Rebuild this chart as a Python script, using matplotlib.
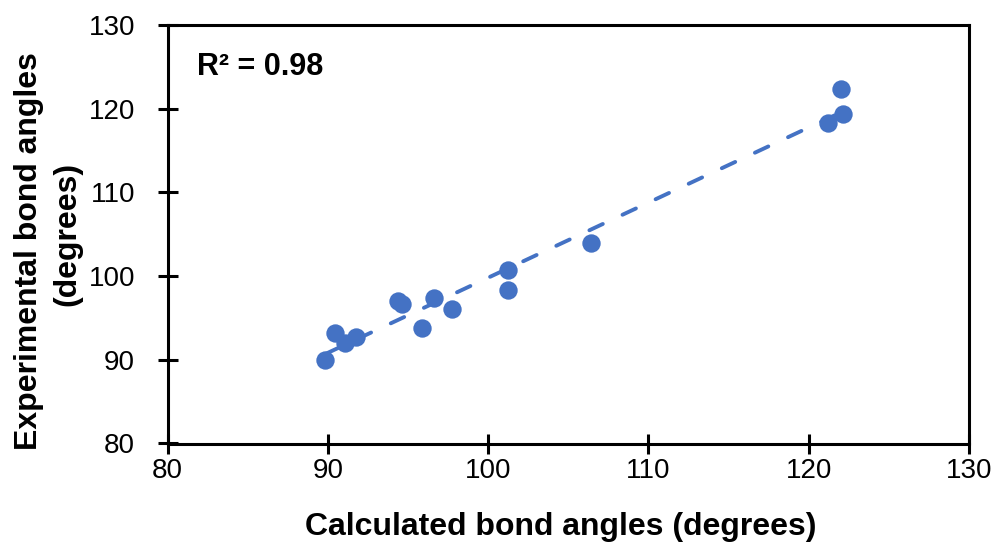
import numpy as np
import matplotlib
matplotlib.use("Agg")
import matplotlib.pyplot as plt

plt.rcParams['font.family'] = ['Liberation Sans', 'DejaVu Sans']

# Calculated vs experimental bond angles (degrees)
calculated = [89.8, 90.45, 91.05, 91.75, 94.35, 94.6, 95.85, 96.6, 97.75,
              101.25, 101.25, 106.4, 121.2, 122.0, 122.15]
experimental = [90.0, 93.2, 91.95, 92.75, 97.0, 96.7, 93.85, 97.35, 96.05,
                100.75, 98.35, 104.0, 118.25, 122.3, 119.35]
r2_label = "R² = 0.98"
ticks = [80, 90, 100, 110, 120, 130]

blue = "#4472C4"
W, H = 999, 546

fig = plt.figure(figsize=(W / 100, H / 100), dpi=100)
ax = fig.add_axes([167.5 / W, 1 - 443.5 / H, (969 - 167.5) / W,
                   (443.5 - 25) / H])

x = np.array(calculated)
y = np.array(experimental)
ax.scatter(x, y, s=175, color=blue, zorder=3, linewidths=0)

# Linear trendline over the data range
slope, intercept = np.polyfit(x, y, 1)
xl = np.array([x.min(), x.max()])
ax.plot(xl, slope * xl + intercept, color=blue, lw=2.8,
        dashes=(3.8, 5.6), dash_capstyle='round', zorder=2)

ax.set_xlim(80, 130)
ax.set_ylim(80, 130)
ax.set_xticks(ticks)
ax.set_yticks(ticks)
ax.tick_params(direction='inout', length=14, width=2.2, labelsize=20)
ax.tick_params(axis='x', pad=3.5)
ax.tick_params(axis='y', pad=16.4)
for s in ax.spines.values():
    s.set_linewidth(2.2)

# Axis titles
fig.text(561 / W, 1 - 534.7 / H, "Calculated bond angles (degrees)",
         fontsize=23, fontweight='bold', ha='center', va='baseline')
fig.text(36.7 / W, 1 - 251 / H, "Experimental bond angles",
         fontsize=23, fontweight='bold', ha='center', va='baseline',
         rotation=90, rotation_mode='anchor')
fig.text(75 / W, 1 - 233.5 / H, "(degrees)",
         fontsize=23, fontweight='bold', ha='center', va='baseline',
         rotation=90, rotation_mode='anchor')

fig.text(197 / W, 1 - 75 / H, r2_label, fontsize=22, fontweight='bold',
         ha='left', va='baseline')

fig.savefig("out.png", dpi=100)
